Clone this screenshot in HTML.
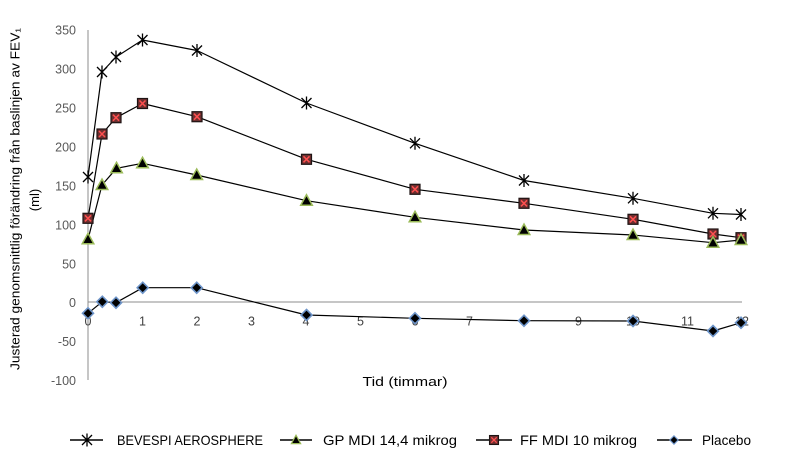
<!DOCTYPE html>
<html><head><meta charset="utf-8"><style>
html,body{margin:0;padding:0;background:#fff;}
svg{display:block;}
text{font-family:"Liberation Sans",sans-serif;}
</style></head><body>
<svg width="799" height="460" viewBox="0 0 799 460" xmlns="http://www.w3.org/2000/svg">
<defs>
<g id="ast"><path d="M-5,-5L5,5M-5,5L5,-5M0,-6.5L0,6.5" stroke="#000" stroke-width="1.3" fill="none"/></g>
<g id="sq"><rect x="-5" y="-5" width="10" height="10" fill="#6e2f2f" stroke="#1e1414" stroke-width="1.2"/><path d="M-3,-3L3,3M-3,3L3,-3" stroke="#ff5050" stroke-width="1.5"/></g>
<g id="tri"><path d="M0,-6L5.8,4.5L-5.8,4.5Z" fill="#000" stroke="#9bbb59" stroke-width="1.5"/></g>
<g id="dia"><path d="M0,-5.5L5.5,0L0,5.5L-5.5,0Z" fill="#000" stroke="#6d94c9" stroke-width="1.6"/></g>
</defs>
<rect width="799" height="460" fill="#fff"/>
<!-- axes -->
<line x1="88" y1="30" x2="88" y2="380" stroke="#8c8c8c" stroke-width="1"/>
<line x1="88" y1="302" x2="742" y2="302" stroke="#8c8c8c" stroke-width="1"/>
<!-- y tick labels -->
<g fill="#595959" font-size="12.5" text-anchor="end">
<text x="76" y="34.5">350</text>
<text x="76" y="73.5">300</text>
<text x="76" y="112.5">250</text>
<text x="76" y="151.5">200</text>
<text x="76" y="190.5">150</text>
<text x="76" y="229.5">100</text>
<text x="76" y="268.5">50</text>
<text x="76" y="307">0</text>
<text x="76" y="346">-50</text>
<text x="76" y="385">-100</text>
</g>
<!-- x tick labels -->
<g fill="#404040" font-size="12.5" text-anchor="middle">
<text x="88" y="325.5">0</text>
<text x="142.5" y="325.5">1</text>
<text x="197" y="325.5">2</text>
<text x="251.5" y="325.5">3</text>
<text x="306" y="325.5">4</text>
<text x="360.5" y="325.5">5</text>
<text x="415" y="325.5">6</text>
<text x="469.5" y="325.5">7</text>
<text x="524" y="325.5">8</text>
<text x="578.5" y="325.5">9</text>
<text x="633" y="325.5">10</text>
<text x="687.5" y="325.5">11</text>
<text x="742" y="325.5">12</text>
</g>
<!-- axis titles -->
<text x="405" y="386" font-size="13" text-anchor="middle" fill="#000" textLength="85" lengthAdjust="spacingAndGlyphs">Tid (timmar)</text>
<text transform="translate(19.5,199) rotate(-90)" font-size="13" text-anchor="middle" fill="#000" textLength="342" lengthAdjust="spacingAndGlyphs">Justerad  genomsnittlig förändring från baslinjen av FEV₁</text>
<text transform="translate(39,200) rotate(-90)" font-size="13" text-anchor="middle" fill="#000">(ml)</text>
<!-- series lines -->
<g fill="none" stroke="#000" stroke-width="1.2" stroke-linejoin="round">
<polyline points="88,177 102,72 116,57 142.5,40 197,50.5 306.5,103 415,143.3 524,180.5 633,198.3 713,213.3 741,214.5"/>
<polyline points="88,218.3 102,134 116,117.7 142.5,103.5 197,116.7 306.5,159.3 415,189.3 524,203.3 633,219.3 713,234 741,237.7"/>
<polyline points="88,239.3 102,185 116.5,168.3 142.5,163.3 196.7,175 306.5,200.7 415,217.3 524,230 633,235 713,242.7 741,240"/>
<polyline points="88,313.3 102.3,301.7 116,302.7 142.7,287.7 196.7,287.7 306.5,315 415,318.3 524,320.7 633,321 713,331 741,322.7"/>
</g>
<!-- markers -->
<g>
<use href="#ast" x="88" y="177"/><use href="#ast" x="102" y="72"/><use href="#ast" x="116" y="57"/><use href="#ast" x="142.5" y="40"/><use href="#ast" x="197" y="50.5"/><use href="#ast" x="306.5" y="103"/><use href="#ast" x="415" y="143.3"/><use href="#ast" x="524" y="180.5"/><use href="#ast" x="633" y="198.3"/><use href="#ast" x="713" y="213.3"/><use href="#ast" x="741" y="214.5"/>
<use href="#sq" x="88" y="218.3"/><use href="#sq" x="102" y="134"/><use href="#sq" x="116" y="117.7"/><use href="#sq" x="142.5" y="103.5"/><use href="#sq" x="197" y="116.7"/><use href="#sq" x="306.5" y="159.3"/><use href="#sq" x="415" y="189.3"/><use href="#sq" x="524" y="203.3"/><use href="#sq" x="633" y="219.3"/><use href="#sq" x="713" y="234"/><use href="#sq" x="741" y="237.7"/>
<use href="#tri" x="88" y="239.3"/><use href="#tri" x="102" y="185"/><use href="#tri" x="116.5" y="168.3"/><use href="#tri" x="142.5" y="163.3"/><use href="#tri" x="196.7" y="175"/><use href="#tri" x="306.5" y="200.7"/><use href="#tri" x="415" y="217.3"/><use href="#tri" x="524" y="230"/><use href="#tri" x="633" y="235"/><use href="#tri" x="713" y="242.7"/><use href="#tri" x="741" y="240"/>
<use href="#dia" x="88" y="313.3"/><use href="#dia" x="102.3" y="301.7"/><use href="#dia" x="116" y="302.7"/><use href="#dia" x="142.7" y="287.7"/><use href="#dia" x="196.7" y="287.7"/><use href="#dia" x="306.5" y="315"/><use href="#dia" x="415" y="318.3"/><use href="#dia" x="524" y="320.7"/><use href="#dia" x="633" y="321"/><use href="#dia" x="713" y="331"/><use href="#dia" x="741" y="322.7"/>
</g>
<!-- legend -->
<g stroke="#000" stroke-width="1.5">
<line x1="70" y1="440" x2="103" y2="440"/>
<line x1="280" y1="440" x2="312" y2="440"/>
<line x1="476" y1="440" x2="512" y2="440"/>
<line x1="657" y1="440" x2="692" y2="440"/>
</g>
<use href="#ast" x="87" y="440"/>
<g transform="translate(296,440) scale(0.8)"><use href="#tri"/></g>
<g transform="translate(494,440) scale(0.9)"><use href="#sq"/></g>
<g transform="translate(674,440) scale(0.75)"><use href="#dia"/></g>
<g font-size="14" fill="#000">
<text x="117" y="445" textLength="146" lengthAdjust="spacingAndGlyphs">BEVESPI AEROSPHERE</text>
<text x="323" y="445" textLength="134" lengthAdjust="spacingAndGlyphs">GP MDI 14,4 mikrog</text>
<text x="520" y="445" textLength="117" lengthAdjust="spacingAndGlyphs">FF MDI 10 mikrog</text>
<text x="702" y="445" textLength="49" lengthAdjust="spacingAndGlyphs">Placebo</text>
</g>
</svg>
</body></html>
